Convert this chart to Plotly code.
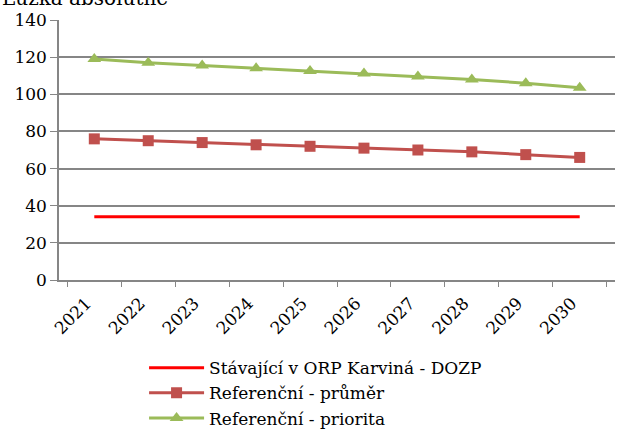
import plotly.graph_objects as go

years = ["2021", "2022", "2023", "2024", "2025", "2026", "2027", "2028", "2029", "2030"]
stavajici = [34, 34, 34, 34, 34, 34, 34, 34, 34, 34]
prumer = [76, 75, 74, 72.8, 72, 71, 70, 69, 67.5, 66]
priorita = [119, 117, 115.5, 114, 112.6, 111.2, 109.6, 108, 106, 103.5]

font_family = "DejaVu Serif"

fig = go.Figure()
fig.add_trace(go.Scatter(x=years, y=stavajici, mode="lines", name="Stávající v ORP Karviná - DOZP",
                         line=dict(color="#FF0000", width=3)))
fig.add_trace(go.Scatter(x=years, y=prumer, mode="lines+markers", name="Referenční - průměr",
                         line=dict(color="#C0504D", width=3),
                         marker=dict(symbol="square", size=11, color="#C0504D")))
fig.add_trace(go.Scatter(x=years, y=priorita, mode="lines+markers", name="Referenční - priorita",
                         line=dict(color="#9BBB59", width=3),
                         marker=dict(symbol="triangle-up", size=12, color="#9BBB59")))

fig.update_layout(
    width=619, height=429,
    margin=dict(l=59, r=4, t=20, b=149, autoexpand=False),
    plot_bgcolor="white", paper_bgcolor="white",
    font=dict(family=font_family, size=17, color="black"),
    showlegend=True,
    legend=dict(orientation="v", x=0.153, xanchor="left", y=-0.27, yanchor="top",
                font=dict(size=17), itemwidth=55, tracegroupgap=0,
                bgcolor="rgba(0,0,0,0)"),
    annotations=[dict(text="Lůžka absolutně", xref="paper", yref="paper",
                      x=-59 / 556, y=1, xanchor="left", yanchor="bottom", yshift=8,
                      showarrow=False, font=dict(size=20))],
)
fig.update_xaxes(type="category", tickson="boundaries", ticks="outside", ticklen=5,
                 tickcolor="#868686", showline=True, linecolor="#868686", linewidth=1.5,
                 showgrid=False, tickangle=-45, tickfont=dict(size=17), automargin=False,
                 ticklabelshift=-8, ticklabelstandoff=5)
fig.update_yaxes(range=[0, 140], dtick=20, showgrid=True, gridcolor="#868686", gridwidth=1.5,
                 showline=True, linecolor="#868686", linewidth=1.5, ticks="outside",
                 ticklen=7, tickcolor="#868686", zeroline=False, tickfont=dict(size=17),
                 automargin=False)

fig.write_html("out.html", config={"displayModeBar": False},
               post_script="document.body.style.margin='0';")
